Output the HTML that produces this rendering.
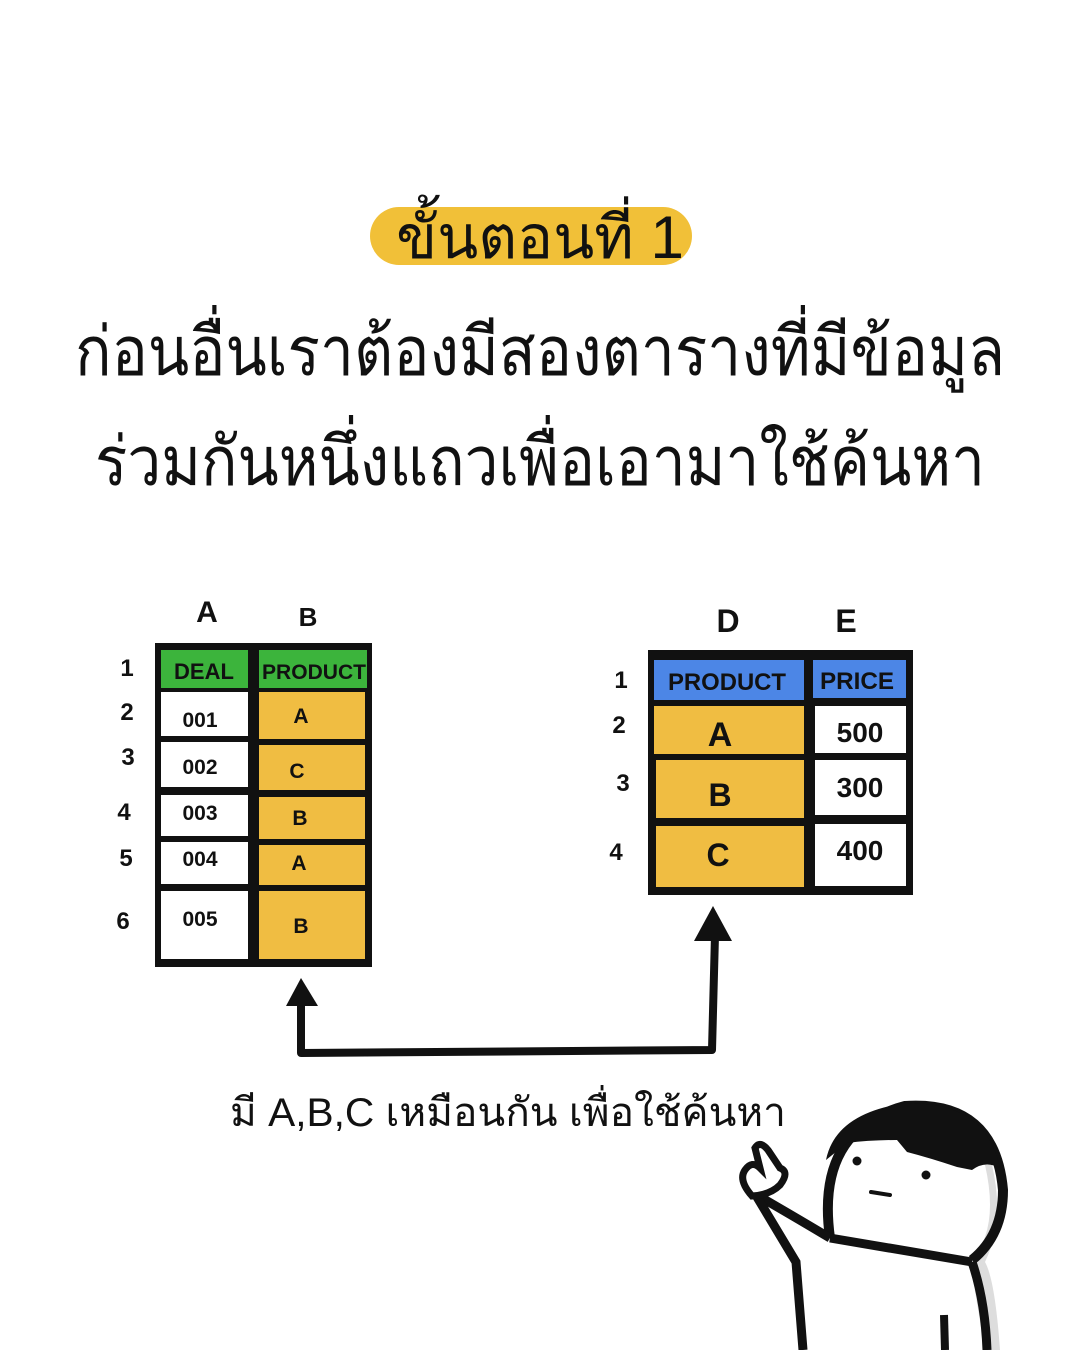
<!DOCTYPE html>
<html><head><meta charset="utf-8"><style>
body{margin:0;width:1080px;height:1350px;background:#fff;overflow:hidden}
svg{display:block}
text{font-family:"Liberation Sans","DejaVu Sans",sans-serif;fill:#111}
</style></head><body>
<svg width="1080" height="1350" viewBox="0 0 1080 1350">
<rect x="370" y="207" width="322" height="58" rx="29" fill="#f1c038"/>
<text x="540" y="258" font-size="60" text-anchor="middle">ขั้นตอนที่ 1</text>
<text x="540" y="375" font-size="68" text-anchor="middle" textLength="930" lengthAdjust="spacingAndGlyphs">ก่อนอื่นเราต้องมีสองตารางที่มีข้อมูล</text>
<text x="540" y="485" font-size="68" text-anchor="middle" textLength="890" lengthAdjust="spacingAndGlyphs">ร่วมกันหนึ่งแถวเพื่อเอามาใช้ค้นหา</text>

<g font-weight="bold">
<text x="207" y="622" font-size="30" text-anchor="middle">A</text>
<text x="308" y="626" font-size="26" text-anchor="middle">B</text>
<rect x="155" y="643" width="217" height="324" fill="#111"/>
<rect x="161" y="650" width="87" height="38" fill="#3cb43c"/>
<rect x="259" y="650" width="108" height="38" fill="#3cb43c"/>
<rect x="161" y="692" width="87" height="44" fill="#fff"/>
<rect x="161" y="742" width="87" height="45" fill="#fff"/>
<rect x="161" y="795" width="87" height="41" fill="#fff"/>
<rect x="161" y="842" width="87" height="42" fill="#fff"/>
<rect x="161" y="891" width="87" height="68" fill="#fff"/>
<rect x="259" y="692" width="106" height="47" fill="#f0bd42"/>
<rect x="259" y="745" width="106" height="45" fill="#f0bd42"/>
<rect x="259" y="797" width="106" height="42" fill="#f0bd42"/>
<rect x="259" y="845" width="106" height="40" fill="#f0bd42"/>
<rect x="259" y="891" width="106" height="68" fill="#f0bd42"/>
<text x="204" y="679" font-size="22" text-anchor="middle">DEAL</text>
<text x="314" y="679" font-size="21" text-anchor="middle" textLength="104" lengthAdjust="spacingAndGlyphs">PRODUCT</text>
<g font-size="21" text-anchor="middle">
<text x="200" y="727">001</text><text x="200" y="774">002</text><text x="200" y="820">003</text><text x="200" y="866">004</text><text x="200" y="926">005</text>
<text x="301" y="723">A</text><text x="297" y="778">C</text><text x="300" y="825">B</text><text x="299" y="870">A</text><text x="301" y="933">B</text>
</g>
<g font-size="24" text-anchor="middle">
<text x="127" y="676">1</text><text x="127" y="720">2</text><text x="128" y="765">3</text><text x="124" y="820">4</text><text x="126" y="866">5</text><text x="123" y="929">6</text>
</g>

<text x="728" y="632" font-size="32" text-anchor="middle">D</text>
<text x="846" y="632" font-size="32" text-anchor="middle">E</text>
<rect x="648" y="650" width="265" height="245" fill="#111"/>
<rect x="654" y="660" width="150" height="40" fill="#4c86e6"/>
<rect x="813" y="660" width="93" height="38" fill="#4c86e6"/>
<rect x="654" y="706" width="150" height="48" fill="#f0bd42"/>
<rect x="656" y="760" width="148" height="58" fill="#f0bd42"/>
<rect x="656" y="826" width="148" height="61" fill="#f0bd42"/>
<rect x="815" y="706" width="91" height="47" fill="#fff"/>
<rect x="815" y="760" width="91" height="55" fill="#fff"/>
<rect x="815" y="824" width="91" height="62" fill="#fff"/>
<text x="727" y="690" font-size="24" text-anchor="middle" textLength="118" lengthAdjust="spacingAndGlyphs">PRODUCT</text>
<text x="857" y="689" font-size="24" text-anchor="middle" textLength="74" lengthAdjust="spacingAndGlyphs">PRICE</text>
<text x="720" y="746" font-size="34" text-anchor="middle">A</text>
<text x="720" y="806" font-size="32" text-anchor="middle">B</text>
<text x="718" y="866" font-size="32" text-anchor="middle">C</text>
<text x="860" y="742" font-size="28" text-anchor="middle">500</text>
<text x="860" y="797" font-size="28" text-anchor="middle">300</text>
<text x="860" y="860" font-size="28" text-anchor="middle">400</text>
<g font-size="24" text-anchor="middle">
<text x="621" y="688">1</text><text x="619" y="733">2</text><text x="623" y="791">3</text><text x="616" y="860">4</text>
</g>
</g>

<path d="M301 1002 L301 1053 L712 1050 L715 935" fill="none" stroke="#111" stroke-width="8" stroke-linejoin="round"/>
<polygon points="301,978 286,1006 318,1006" fill="#111"/>
<polygon points="713,906 694,941 732,941" fill="#111"/>

<text x="508" y="1126" font-size="40" text-anchor="middle" textLength="556" lengthAdjust="spacingAndGlyphs">มี A,B,C เหมือนกัน เพื่อใช้ค้นหา</text>

<!-- character -->
<path d="M985 1165 Q1000 1230 970 1262 L985 1350 L1000 1350 Q995 1280 985 1262 Q1005 1220 992 1165 Z" fill="#ddd"/>
<path d="M830 1238 Q815 1130 905 1106 Q995 1100 1003 1190 Q1003 1235 972 1260" fill="none" stroke="#111" stroke-width="10"/>
<path d="M826 1160 Q835 1115 900 1104 Q985 1098 1000 1168 Q985 1160 972 1170 L957 1167 Q930 1158 907 1152 L897 1140 Q870 1140 847 1143 Z" fill="#111"/>
<path d="M830 1238 Q900 1250 972 1262" fill="none" stroke="#111" stroke-width="9"/>
<circle cx="857" cy="1161" r="4.5" fill="#111"/>
<circle cx="926" cy="1175" r="4.5" fill="#111"/>
<path d="M871 1192 L890 1195" stroke="#111" stroke-width="4" stroke-linecap="round"/>
<path d="M830 1238 Q800 1220 762 1198" fill="none" stroke="#111" stroke-width="9"/>
<path d="M757 1197 L796 1262 L803 1350" fill="none" stroke="#111" stroke-width="9"/>
<path d="M972 1262 Q985 1300 987 1350" fill="none" stroke="#111" stroke-width="9"/>
<path d="M944 1315 L945 1350" stroke="#111" stroke-width="8"/>
<path d="M752 1196 Q738 1180 745 1170 Q752 1160 760 1168 L755 1148 Q760 1140 768 1150 L780 1168 Q790 1172 780 1185 Q770 1195 752 1196 Z" fill="#fff" stroke="#111" stroke-width="7"/>
</svg>
</body></html>
